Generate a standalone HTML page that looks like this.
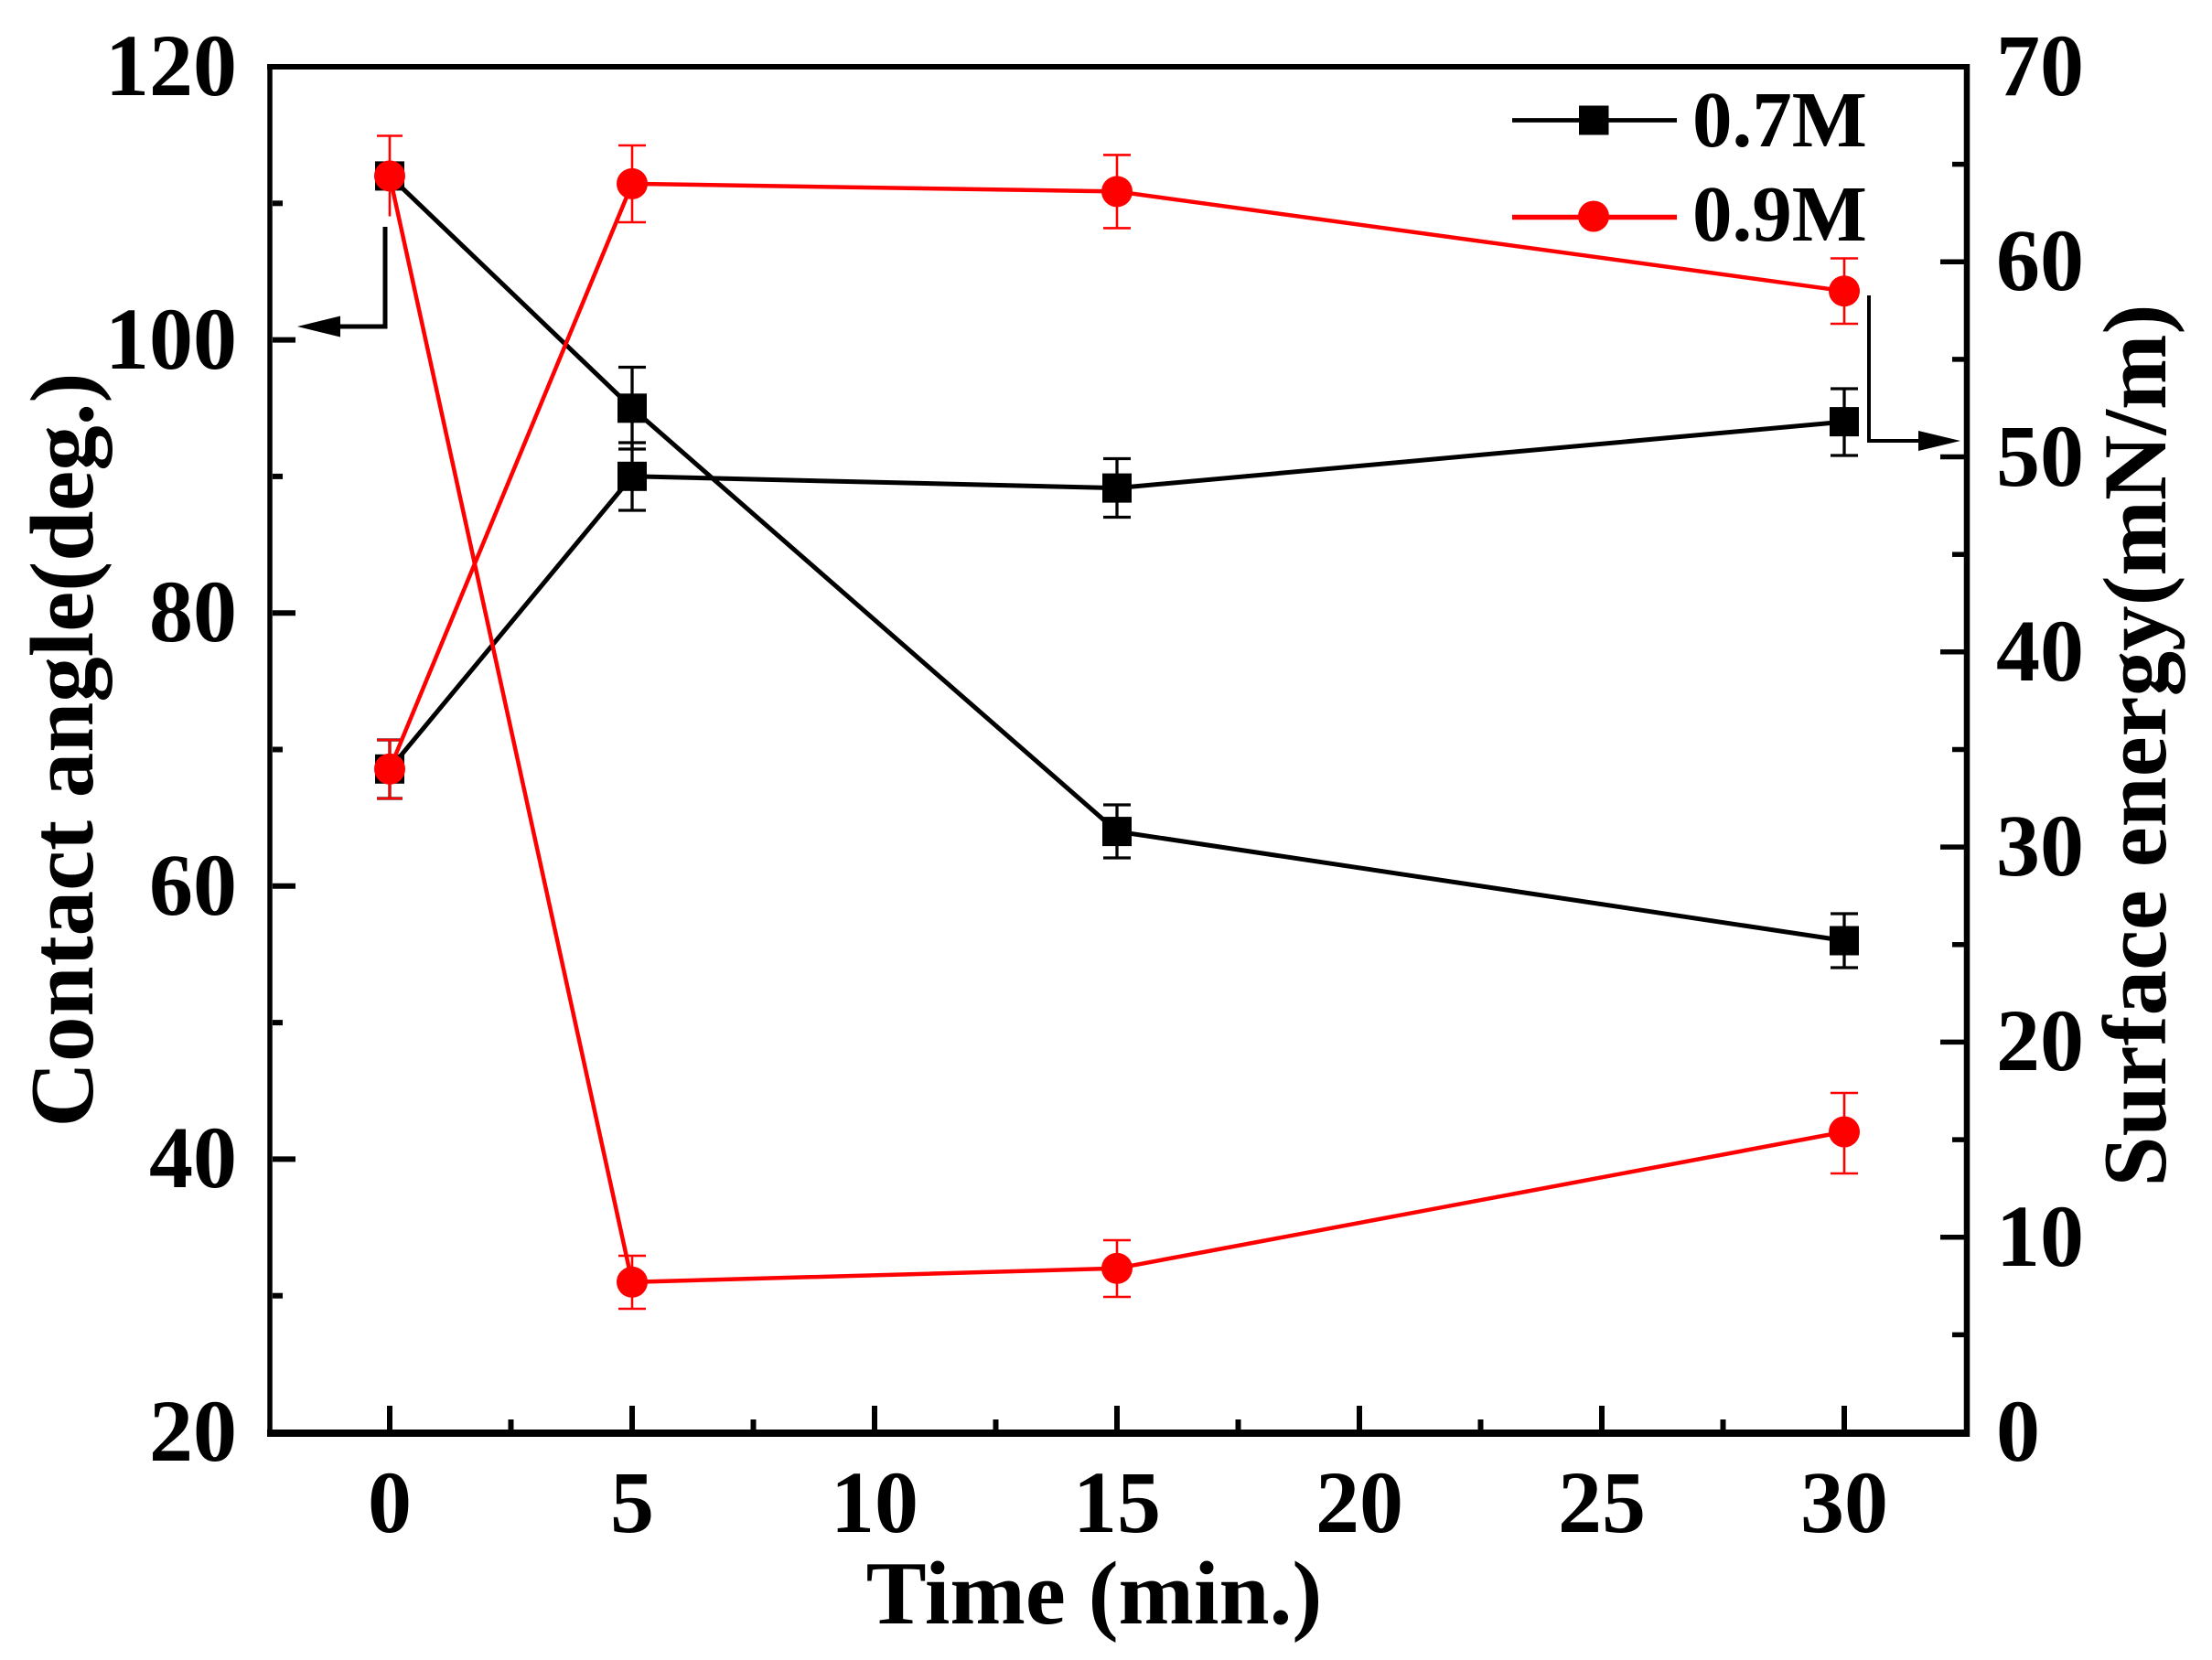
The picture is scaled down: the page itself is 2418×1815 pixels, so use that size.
<!DOCTYPE html>
<html>
<head>
<meta charset="utf-8">
<style>
html,body{margin:0;padding:0;background:#fff;}
svg{display:block;}
text{font-family:"Liberation Serif","Times New Roman",serif;font-weight:bold;fill:#000;}
</style>
</head>
<body>
<svg width="2418" height="1815" viewBox="0 0 2418 1815" xmlns="http://www.w3.org/2000/svg">
<rect x="0" y="0" width="2418" height="1815" fill="#fff"/>

<!-- spines -->
<line x1="295" y1="70" x2="295" y2="1571" stroke="#000" stroke-width="5.5"/>
<line x1="2150" y1="70" x2="2150" y2="1571" stroke="#000" stroke-width="6.5"/>
<line x1="292" y1="73" x2="2153" y2="73" stroke="#000" stroke-width="6"/>
<line x1="292" y1="1567" x2="2153" y2="1567" stroke="#000" stroke-width="8"/>

<!-- left ticks -->
<g stroke="#000" stroke-width="6">
<line x1="298" y1="371.6" x2="323" y2="371.6"/>
<line x1="298" y1="670.2" x2="323" y2="670.2"/>
<line x1="298" y1="968.8" x2="323" y2="968.8"/>
<line x1="298" y1="1267.4" x2="323" y2="1267.4"/>
<line x1="298" y1="222.3" x2="309" y2="222.3"/>
<line x1="298" y1="520.9" x2="309" y2="520.9"/>
<line x1="298" y1="819.5" x2="309" y2="819.5"/>
<line x1="298" y1="1118.1" x2="309" y2="1118.1"/>
<line x1="298" y1="1416.7" x2="309" y2="1416.7"/>
</g>

<!-- right ticks -->
<g stroke="#000" stroke-width="5.5">
<line x1="2147" y1="1352.7" x2="2121" y2="1352.7"/>
<line x1="2147" y1="1139.4" x2="2121" y2="1139.4"/>
<line x1="2147" y1="926.1" x2="2121" y2="926.1"/>
<line x1="2147" y1="712.8" x2="2121" y2="712.8"/>
<line x1="2147" y1="499.5" x2="2121" y2="499.5"/>
<line x1="2147" y1="286.2" x2="2121" y2="286.2"/>
<line x1="2147" y1="1459.4" x2="2134" y2="1459.4"/>
<line x1="2147" y1="1246.1" x2="2134" y2="1246.1"/>
<line x1="2147" y1="1032.8" x2="2134" y2="1032.8"/>
<line x1="2147" y1="819.5" x2="2134" y2="819.5"/>
<line x1="2147" y1="606.2" x2="2134" y2="606.2"/>
<line x1="2147" y1="392.9" x2="2134" y2="392.9"/>
<line x1="2147" y1="179.6" x2="2134" y2="179.6"/>
</g>

<!-- bottom ticks -->
<g stroke="#000" stroke-width="6">
<line x1="426" y1="1563" x2="426" y2="1537"/>
<line x1="691" y1="1563" x2="691" y2="1537"/>
<line x1="956" y1="1563" x2="956" y2="1537"/>
<line x1="1221" y1="1563" x2="1221" y2="1537"/>
<line x1="1486" y1="1563" x2="1486" y2="1537"/>
<line x1="1751" y1="1563" x2="1751" y2="1537"/>
<line x1="2016" y1="1563" x2="2016" y2="1537"/>
<line x1="558.5" y1="1563" x2="558.5" y2="1552"/>
<line x1="823.5" y1="1563" x2="823.5" y2="1552"/>
<line x1="1088.5" y1="1563" x2="1088.5" y2="1552"/>
<line x1="1353.5" y1="1563" x2="1353.5" y2="1552"/>
<line x1="1618.5" y1="1563" x2="1618.5" y2="1552"/>
<line x1="1883.5" y1="1563" x2="1883.5" y2="1552"/>
</g>

<!-- left tick labels -->
<g font-size="96" text-anchor="end">
<text x="259" y="104">120</text>
<text x="259" y="403">100</text>
<text x="259" y="701">80</text>
<text x="259" y="1000">60</text>
<text x="259" y="1298">40</text>
<text x="259" y="1597">20</text>
</g>

<!-- right tick labels -->
<g font-size="96" text-anchor="start">
<text x="2182" y="1597">0</text>
<text x="2182" y="1384">10</text>
<text x="2182" y="1170">20</text>
<text x="2182" y="957">30</text>
<text x="2182" y="744">40</text>
<text x="2182" y="531">50</text>
<text x="2182" y="317">60</text>
<text x="2182" y="104">70</text>
</g>

<!-- bottom tick labels -->
<g font-size="96" text-anchor="middle">
<text x="426" y="1675">0</text>
<text x="691" y="1675">5</text>
<text x="956" y="1675">10</text>
<text x="1221" y="1675">15</text>
<text x="1486" y="1675">20</text>
<text x="1751" y="1675">25</text>
<text x="2016" y="1675">30</text>
</g>

<!-- axis titles -->
<text x="1196" y="1775" font-size="99" text-anchor="middle">Time (min.)</text>
<text transform="translate(101,820) rotate(-90)" font-size="99" text-anchor="middle">Contact angle(deg.)</text>
<text transform="translate(2367,815) rotate(-90)" font-size="99" text-anchor="middle">Surface energy(mN/m)</text>

<!-- arrows -->
<polyline points="421,248 421,357 368,357" fill="none" stroke="#000" stroke-width="5"/>
<polygon points="325,357 372,345.5 372,368.5" fill="#000"/>
<polyline points="2043,323 2043,482 2100,482" fill="none" stroke="#000" stroke-width="4"/>
<polygon points="2143,482 2097,471 2097,493" fill="#000"/>

<!-- ===== 0.7M (black) ===== -->
<g stroke="#000" stroke-width="3.3" fill="none">
<line x1="426" y1="180" x2="426" y2="205"/>
<line x1="691" y1="401.5" x2="691" y2="491"/><line x1="676" y1="401.5" x2="706" y2="401.5"/><line x1="676" y1="491" x2="706" y2="491"/>
<line x1="1221" y1="880" x2="1221" y2="938"/><line x1="1206" y1="880" x2="1236" y2="880"/><line x1="1206" y1="938" x2="1236" y2="938"/>
<line x1="2016" y1="999" x2="2016" y2="1058"/><line x1="2001" y1="999" x2="2031" y2="999"/><line x1="2001" y1="1058" x2="2031" y2="1058"/>
<line x1="426" y1="809" x2="426" y2="873"/><line x1="412" y1="809" x2="440" y2="809"/><line x1="412" y1="873" x2="440" y2="873"/>
<line x1="691" y1="484" x2="691" y2="558"/><line x1="676" y1="484" x2="706" y2="484"/><line x1="676" y1="558" x2="706" y2="558"/>
<line x1="1221" y1="501.5" x2="1221" y2="565.5"/><line x1="1206" y1="501.5" x2="1236" y2="501.5"/><line x1="1206" y1="565.5" x2="1236" y2="565.5"/>
<line x1="2016" y1="425" x2="2016" y2="498"/><line x1="2001" y1="425" x2="2031" y2="425"/><line x1="2001" y1="498" x2="2031" y2="498"/>
</g>
<polyline points="426,192.4 691,446.3 1221,909.1 2016,1028.5" fill="none" stroke="#000" stroke-width="5"/>
<polyline points="426,840.8 691,520.8 1221,533.6 2016,461.1" fill="none" stroke="#000" stroke-width="5"/>
<g fill="#000">
<rect x="410" y="176.4" width="32" height="32"/>
<rect x="675" y="430.3" width="32" height="32"/>
<rect x="1205" y="893.1" width="32" height="32"/>
<rect x="2000" y="1012.5" width="32" height="32"/>
<rect x="410" y="824.8" width="32" height="32"/>
<rect x="675" y="504.8" width="32" height="32"/>
<rect x="1205" y="517.6" width="32" height="32"/>
<rect x="2000" y="445.1" width="32" height="32"/>
</g>

<!-- ===== 0.9M (red) ===== -->
<g stroke="#ff0000" stroke-width="2.6" fill="none">
<line x1="426" y1="148.5" x2="426" y2="236.5"/><line x1="412" y1="148.5" x2="440" y2="148.5"/>
<line x1="691" y1="1373" x2="691" y2="1431"/><line x1="676" y1="1373" x2="706" y2="1373"/><line x1="676" y1="1431" x2="706" y2="1431"/>
<line x1="1221" y1="1356" x2="1221" y2="1418"/><line x1="1206" y1="1356" x2="1236" y2="1356"/><line x1="1206" y1="1418" x2="1236" y2="1418"/>
<line x1="2016" y1="1195" x2="2016" y2="1283"/><line x1="2001" y1="1195" x2="2031" y2="1195"/><line x1="2001" y1="1283" x2="2031" y2="1283"/>
<line x1="426" y1="809" x2="426" y2="873"/><line x1="412" y1="809" x2="440" y2="809"/><line x1="412" y1="873" x2="440" y2="873"/>
<line x1="691" y1="159" x2="691" y2="243"/><line x1="676" y1="159" x2="706" y2="159"/><line x1="676" y1="243" x2="706" y2="243"/>
<line x1="1221" y1="169.4" x2="1221" y2="249.4"/><line x1="1206" y1="169.4" x2="1236" y2="169.4"/><line x1="1206" y1="249.4" x2="1236" y2="249.4"/>
<line x1="2016" y1="282.5" x2="2016" y2="354"/><line x1="2001" y1="282.5" x2="2031" y2="282.5"/><line x1="2001" y1="354" x2="2031" y2="354"/>
</g>
<polyline points="426,192.4 691,1401.8 1221,1386.8 2016,1237.5" fill="none" stroke="#ff0000" stroke-width="4.5"/>
<polyline points="426,840.8 691,200.9 1221,209.4 2016,318.2" fill="none" stroke="#ff0000" stroke-width="4.5"/>
<g fill="#ff0000">
<circle cx="426" cy="192.4" r="17"/>
<circle cx="691" cy="1401.8" r="17"/>
<circle cx="1221" cy="1386.8" r="17"/>
<circle cx="2016" cy="1237.5" r="17"/>
<circle cx="426" cy="840.8" r="17"/>
<circle cx="691" cy="200.9" r="17"/>
<circle cx="1221" cy="209.4" r="17"/>
<circle cx="2016" cy="318.2" r="17"/>
</g>

<!-- legend -->
<line x1="1653" y1="131.5" x2="1833" y2="131.5" stroke="#000" stroke-width="4.7"/>
<rect x="1726" y="115.5" width="32.5" height="32" fill="#000"/>
<line x1="1653" y1="237.5" x2="1833" y2="237.5" stroke="#ff0000" stroke-width="5.5"/>
<circle cx="1742" cy="236.5" r="17" fill="#ff0000"/>
<g font-size="87">
<text x="1850" y="160">0.7M</text>
<text x="1850" y="263">0.9M</text>
</g>
</svg>
</body>
</html>
